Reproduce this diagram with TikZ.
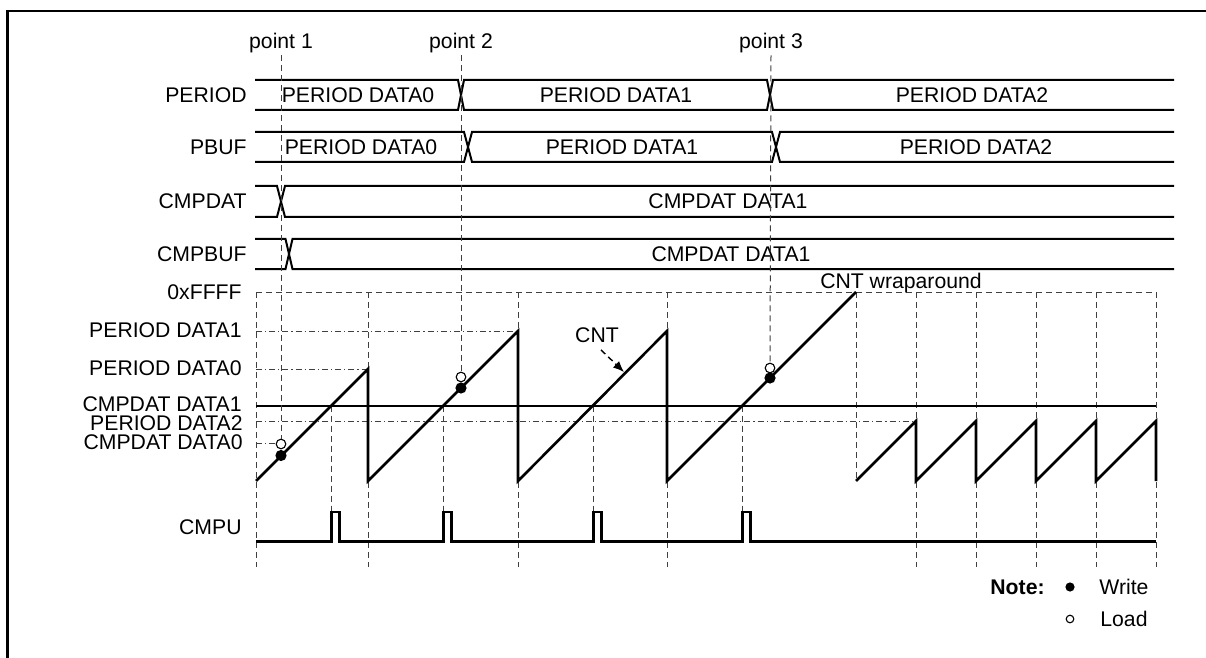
\documentclass[tikz,border=0pt]{standalone}
\usepackage{fontspec}
\setmainfont{Liberation Sans}
\usepackage{tikz}
\usetikzlibrary{arrows.meta}
\definecolor{gridgray}{HTML}{404040}
\tikzset{
  lbl/.style={font=\fontsize{10.6}{12}\selectfont, inner sep=1pt},
  siglabel/.style={lbl, anchor=east},
  bus/.style={line width=1pt, line join=miter},
  cntline/.style={line width=1.3pt, line join=miter},
  pulse/.style={line width=1.2pt, line join=miter},
  guide/.style={draw=gridgray, line width=0.5pt, dash pattern=on 3pt off 2pt},
  level/.style={draw=gridgray, line width=0.5pt, dash pattern=on 3pt off 1.5pt on 0.6pt off 1.5pt},
  writept/.style={circle, fill=black, inner sep=0pt, minimum size=5.6pt},
  loadpt/.style={circle, draw=black, fill=white, line width=0.55pt, inner sep=0pt, minimum size=4.8pt},
  frame/.style={line width=1.2pt}
}

\begin{document}
\begin{tikzpicture}[x=0.5pt, y=-0.5pt]
  \useasboundingbox (0,0) rectangle (1206,658);
  \draw[frame] (1206,11) -- (7.5,11) -- (7.5,658);

  % signal names
  \node[siglabel] (period) at (249,95) {PERIOD};
  \node[siglabel] (pbuf) at (249,147) {PBUF};
  \node[siglabel] (cmpdat) at (249,201.5) {CMPDAT};
  \node[siglabel] (cmpbuf) at (249,254) {CMPBUF};
  \node[siglabel] (ffff) at (244,292) {0xFFFF};
  \node[siglabel] (pd1) at (244,330) {PERIOD DATA1};
  \node[siglabel] (pd0) at (244,368) {PERIOD DATA0};
  \node[siglabel] (cd1) at (244,404) {CMPDAT DATA1};
  \node[siglabel, inner sep=0pt] (pd2) at (243,423.5) {PERIOD DATA2};
  \node[siglabel, inner sep=0pt] (cd0) at (243,442.5) {CMPDAT DATA0};
  \node[siglabel] (cmpu) at (244,527) {CMPU};

  % register buses
  \draw[bus] (255,80) -- (458,80) -- (464,110) -- (767,110) -- (773,80) -- (1174,80);
  \draw[bus] (255,110) -- (458,110) -- (464,80) -- (767,80) -- (773,110) -- (1174,110);
  \node[lbl] at (358,95) {PERIOD DATA0};
  \node[lbl] at (616,95) {PERIOD DATA1};
  \node[lbl] at (972,95) {PERIOD DATA2};

  \draw[bus] (255,132) -- (464,132) -- (472,162) -- (772,162) -- (780,132) -- (1174,132);
  \draw[bus] (255,162) -- (464,162) -- (472,132) -- (772,132) -- (780,162) -- (1174,162);
  \node[lbl] at (361,147) {PERIOD DATA0};
  \node[lbl] at (622,147) {PERIOD DATA1};
  \node[lbl] at (976,147) {PERIOD DATA2};

  \draw[bus] (255,186) -- (277,186) -- (285,217) -- (1174,217);
  \draw[bus] (255,217) -- (277,217) -- (285,186) -- (1174,186);
  \node[lbl] at (728,201.5) {CMPDAT DATA1};

  \draw[bus] (255,239) -- (285.5,239) -- (292.5,269) -- (1174,269);
  \draw[bus] (255,269) -- (285.5,269) -- (292.5,239) -- (1174,239);
  \node[lbl] at (731,254) {CMPDAT DATA1};

  % CNT levels and grid
  \draw[guide] (256,292) -- (1156,292);
  \foreach \gx in {256,368,518,667,916,976,1036,1096,1156}
    \draw[guide] (\gx,292) -- (\gx,567);
  \draw[guide] (856,292) -- (856,481);
  \foreach \gx in {331.5,443.5,593.5,742.5}
    \draw[guide] (\gx,405.5) -- (\gx,512);
  \draw[level] (256,331) -- (518,331);
  \draw[level] (256,369) -- (368,369);
  \draw[level] (256,421) -- (916,421);
  \draw[level] (256,443.5) -- (277,443.5);
  \draw[line width=1pt] (256,405.5) -- (1156,405.5);

  % counter
  \draw[cntline] (256,481) -- (368,369) -- (368,481) -- (518,331) -- (518,481)
    -- (667,331) -- (667,481) -- (856,292);
  \draw[cntline] (856,481) -- (916,421) -- (916,481) -- (976,421) -- (976,481)
    -- (1036,421) -- (1036,481) -- (1096,421) -- (1096,481) -- (1156,421) -- (1156,481);

  \node[lbl] (cnt) at (597,335) {CNT};
  \coordinate (cnttip) at (624,372);
  \draw[draw=black, line width=0.7pt, dash pattern=on 3pt off 2pt,
    -{Latex[length=5.5pt, width=4.5pt]}] (cnt.south) ++(4,5) -- (cnttip);
  \node[lbl] (wrap) at (901,283) {CNT wraparound};

  % write / load points
  \node[lbl] (p1) at (281,43) {point 1};
  \node[lbl] (p2) at (461,43) {point 2};
  \node[lbl] (p3) at (771,43) {point 3};
  \node[loadpt] (ld1) at (281,444) {};
  \node[loadpt] (ld2) at (461,377) {};
  \node[loadpt] (ld3) at (770,368) {};
  \draw[guide] (p1.south) -- (ld1.north);
  \draw[guide] (p2.south) -- (ld2.north);
  \draw[guide] (p3.south) -- (ld3.north);
  \node[writept] (wr1) at (281,455.5) {};
  \node[writept] (wr2) at (461,388) {};
  \node[writept] (wr3) at (770,378) {};

  % CMPU
  \draw[pulse] (256,541.5) -- (331.5,541.5) -- (331.5,512) -- (339.5,512) -- (339.5,541.5)
    -- (443.5,541.5) -- (443.5,512) -- (451.5,512) -- (451.5,541.5)
    -- (593.5,541.5) -- (593.5,512) -- (601.5,512) -- (601.5,541.5)
    -- (742.5,541.5) -- (742.5,512) -- (750.5,512) -- (750.5,541.5) -- (1156,541.5);

  % legend
  \node[lbl, font=\fontsize{10.6}{12}\selectfont\bfseries, anchor=east] (note) at (1047,587) {Note:};
  \node[writept, minimum size=4.6pt] (wkey) at (1070,587) {};
  \node[lbl, anchor=west] (wtxt) at (1097,587) {Write};
  \node[loadpt, minimum size=3.8pt] (lkey) at (1070,619) {};
  \node[lbl, anchor=west] (ltxt) at (1098,619) {Load};
\end{tikzpicture}
\end{document}
